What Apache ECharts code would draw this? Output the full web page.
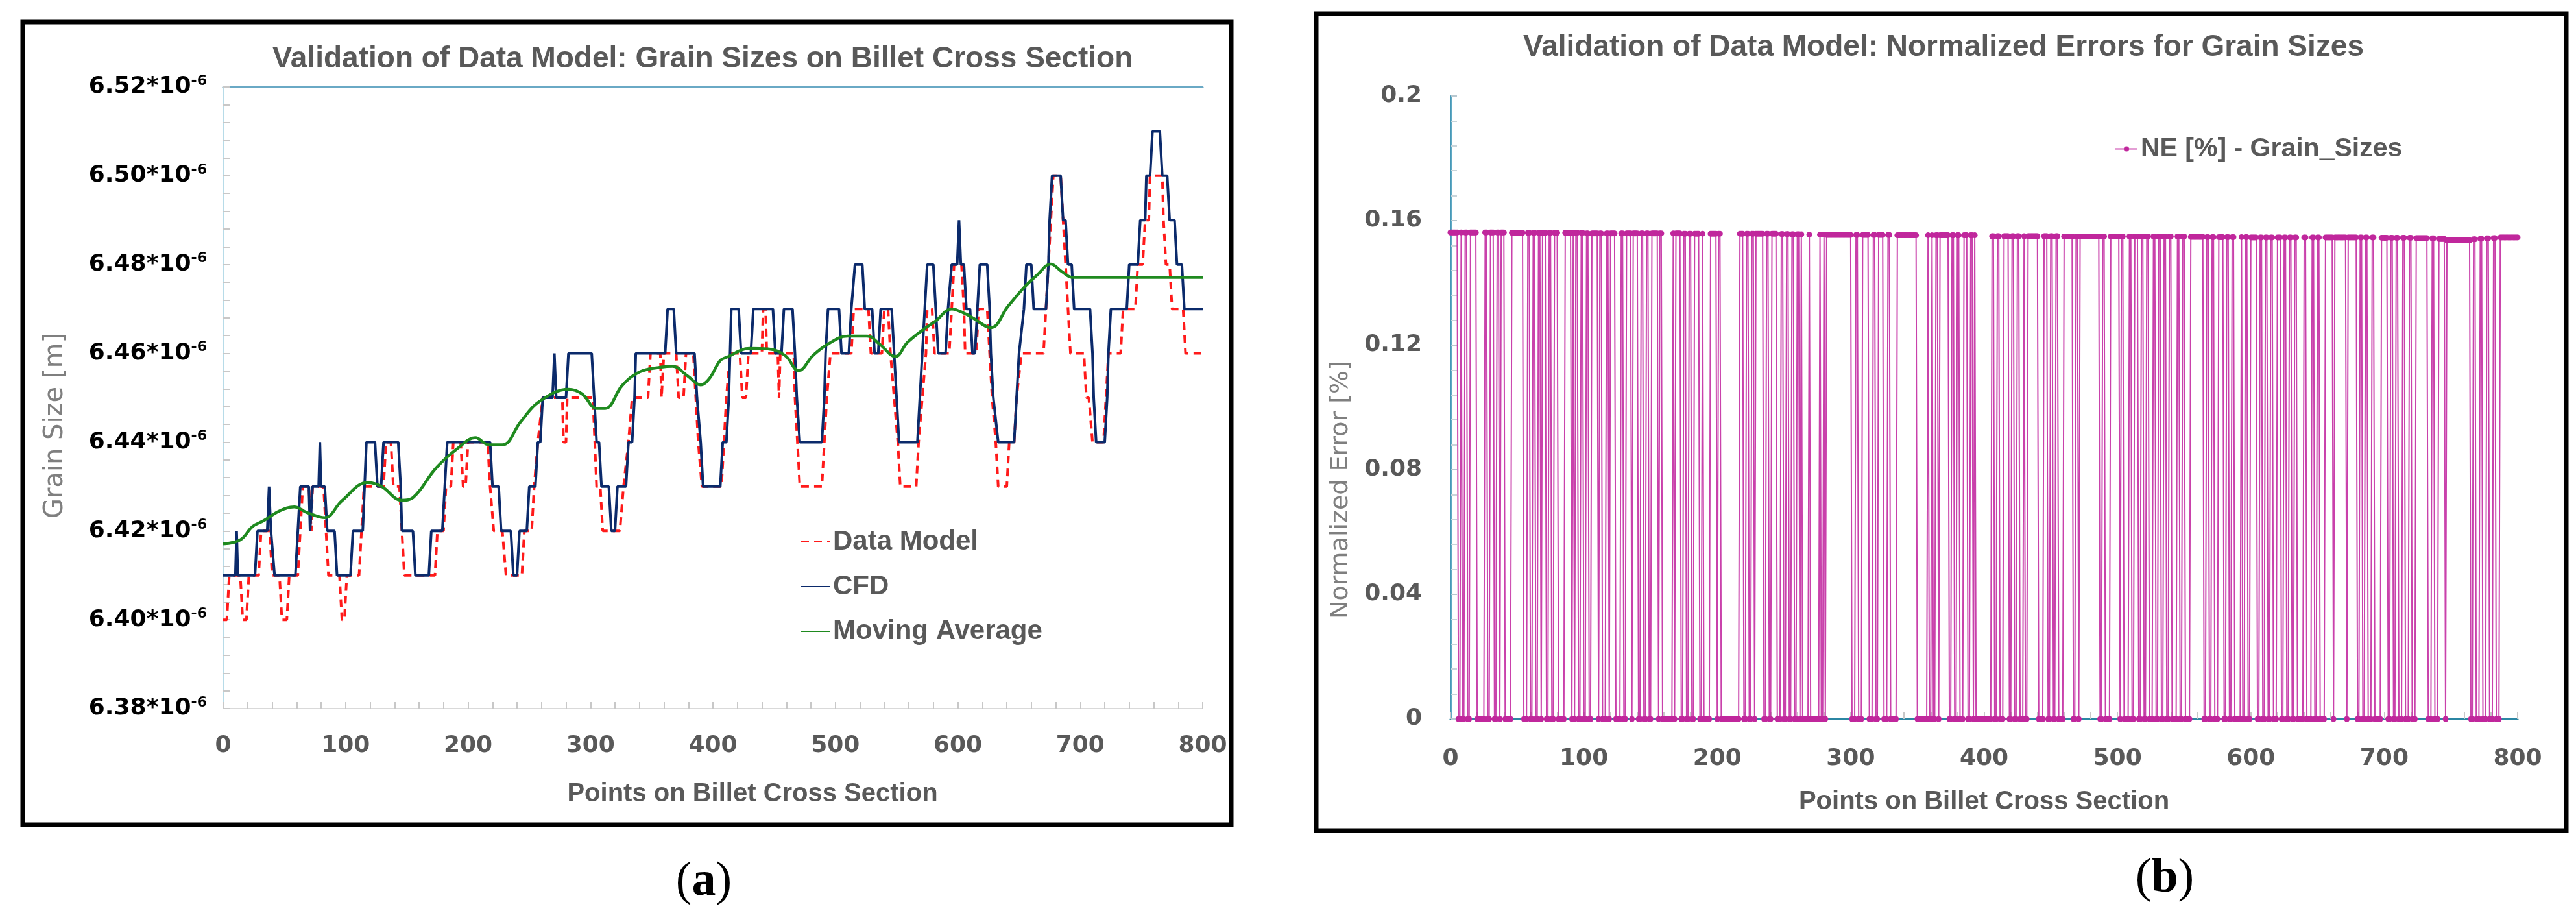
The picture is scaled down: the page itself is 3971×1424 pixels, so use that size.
<!DOCTYPE html>
<html>
<head>
<meta charset="utf-8">
<script src="https://cdn.jsdelivr.net/npm/echarts@6/dist/echarts.min.js"></script>
<style>
html,body{margin:0;padding:0;background:#ffffff;}
#chart{width:3971px;height:1424px;}
</style>
</head>
<body>
<div id="chart"></div>
<script>
// ---------------- DATA (grain sizes in units of 1e-6 m) ----------------
const xTickValues = [0, 100, 200, 300, 400, 500, 600, 700, 800];
const grainTickValues = [6.38, 6.40, 6.42, 6.44, 6.46, 6.48, 6.50, 6.52];
const neTickValues = [0, 0.04, 0.08, 0.12, 0.16, 0.2];

// CFD grain size (breakpoints)
const cfd = [
  [0,6.41],[10,6.41],[11,6.42],[12,6.41],[26,6.41],[28,6.42],[36,6.42],[37.5,6.43],[39,6.42],[40,6.42],[42,6.41],
  [59,6.41],[61,6.42],[63,6.43],[70,6.43],[71,6.42],[73,6.43],[78,6.43],[79,6.44],[80,6.43],[83,6.43],[85,6.42],
  [91,6.42],[93,6.41],[104,6.41],[106,6.42],[114,6.42],[117,6.44],[124,6.44],[126,6.43],[129,6.43],[131,6.44],
  [143,6.44],[145,6.43],[146,6.42],[155,6.42],[157,6.41],[168,6.41],[170,6.42],[179,6.42],[181,6.43],[183,6.44],
  [218,6.44],[220,6.43],[225,6.43],[227,6.42],[235,6.42],[237,6.41],[240,6.41],[242,6.42],[248,6.42],[250,6.43],
  [255,6.43],[257,6.44],[259,6.44],[261,6.45],[269,6.45],[270.5,6.46],[272,6.45],[280,6.45],[282,6.46],[301,6.46],
  [303,6.45],[305,6.44],[307,6.44],[309,6.43],[315,6.43],[317,6.42],[320,6.42],[322,6.43],[329,6.43],[331,6.44],
  [334,6.44],[336,6.45],[337,6.46],[361,6.46],[363,6.47],[368,6.47],[370,6.46],[385,6.46],[387,6.45],[390,6.44],
  [392,6.43],[406,6.43],[408,6.44],[411,6.44],[413,6.45],[414,6.46],[415,6.47],[421,6.47],[423,6.46],[431,6.46],
  [433,6.47],[449,6.47],[451,6.46],[456,6.46],[458,6.47],[465,6.47],[467,6.46],[468.5,6.45],[471,6.44],[489,6.44],
  [491,6.45],[492,6.46],[494,6.47],[503,6.47],[505,6.46],[511,6.46],[513,6.47],[516,6.48],[522,6.48],[524,6.47],
  [530,6.47],[532,6.46],[535,6.46],[537,6.47],[546,6.47],[548,6.46],[550,6.45],[552,6.44],[567,6.44],[569,6.45],
  [571,6.46],[573,6.47],[575,6.48],[580,6.48],[582,6.47],[584,6.46],[590,6.46],[592,6.47],[595,6.48],[599.5,6.48],
  [601,6.49],[602.5,6.48],[605,6.48],[607,6.47],[610,6.47],[612,6.46],[614,6.46],[616,6.47],[618,6.48],[624,6.48],
  [626,6.47],[627,6.46],[629,6.45],[633,6.44],[646,6.44],[648,6.45],[650,6.46],[654,6.47],[656,6.48],[660,6.48],
  [662,6.47],[672,6.47],[674,6.48],[675,6.49],[677,6.50],[684,6.50],[686,6.49],[688,6.49],[690,6.48],[693,6.48],
  [695,6.47],[708,6.47],[710,6.46],[711,6.45],[713,6.44],[720,6.44],[722,6.45],[723,6.46],[725,6.47],[738,6.47],
  [740,6.48],[747,6.48],[749,6.49],[753,6.49],[754,6.50],[757,6.50],[759,6.51],[765,6.51],[767,6.50],[771,6.50],
  [773,6.49],[777,6.49],[779,6.48],[783,6.48],[785,6.47],[800,6.47]
];

// Data model grain size (breakpoints)
const dataModel = [
  [0,6.40],[3,6.40],[5,6.41],[14,6.41],[16,6.40],[19,6.40],[21,6.41],[29,6.41],[31,6.42],[38,6.42],[40,6.41],
  [46,6.41],[48,6.40],[52,6.40],[54,6.41],[61,6.41],[63,6.42],[65,6.43],[70,6.43],[72,6.42],[73,6.43],[82,6.43],
  [84,6.42],[86,6.41],[95,6.41],[97,6.40],[99,6.40],[101,6.41],[111,6.41],[113,6.42],[115,6.43],[131,6.43],
  [133,6.44],[137,6.44],[139,6.43],[144,6.43],[146,6.42],[148,6.41],[173,6.41],[175,6.42],[180,6.42],[182,6.43],
  [186,6.43],[188,6.44],[194,6.44],[196,6.43],[198,6.43],[200,6.44],[216,6.44],[218,6.43],[221,6.42],[228,6.42],
  [231,6.41],[244,6.41],[246,6.42],[252,6.42],[254,6.43],[257,6.44],[261,6.45],[277,6.45],[278,6.44],[280,6.44],
  [281,6.45],[302,6.45],[303.5,6.44],[305,6.43],[308,6.43],[310,6.42],[324,6.42],[327,6.43],[331,6.44],[334,6.45],
  [347,6.45],[349,6.46],[357,6.46],[358,6.45],[360,6.46],[370,6.46],[372,6.45],[376,6.45],[378,6.46],[384,6.46],
  [386,6.45],[388,6.44],[391,6.43],[407,6.43],[409,6.44],[411,6.45],[414,6.46],[422,6.46],[424,6.45],[427,6.45],
  [429,6.46],[440,6.46],[441,6.47],[443,6.47],[444,6.46],[453,6.46],[454,6.45],[455,6.46],[466,6.46],[467,6.45],
  [469,6.44],[471,6.43],[489,6.43],[491,6.44],[493,6.45],[496,6.46],[513,6.46],[515,6.47],[527,6.47],[529,6.46],
  [538,6.46],[540,6.47],[543,6.47],[545,6.46],[548,6.45],[551,6.44],[553,6.43],[566,6.43],[568,6.44],[571,6.45],
  [574,6.46],[575,6.47],[579,6.47],[581,6.46],[593,6.46],[595,6.47],[597,6.48],[603,6.48],[605,6.47],[606,6.46],
  [615,6.46],[617,6.47],[624,6.47],[626,6.46],[628,6.45],[631,6.44],[633,6.43],[640,6.43],[642,6.44],[646,6.44],
  [648,6.45],[652,6.46],[670,6.46],[672,6.47],[674,6.48],[676,6.49],[678,6.50],[684,6.50],[686,6.49],[688,6.48],
  [690,6.47],[692,6.46],[703,6.46],[705,6.45],[707,6.45],[710,6.44],[719,6.44],[721,6.45],[723,6.46],[733,6.46],
  [735,6.47],[745,6.47],[747,6.48],[751,6.48],[753,6.49],[756,6.49],[757,6.50],[767,6.50],[768,6.49],[770,6.48],
  [773,6.48],[775,6.47],[784,6.47],[786,6.46],[800,6.46]
];

// Moving average
const movingAverage = [
  [0,6.4171],[14,6.418],[24,6.421],[33,6.4223],[46,6.4245],[58,6.4254],[68,6.4242],[83,6.423],[97,6.4268],
  [118,6.4309],[129,6.4301],[146,6.4269],[155,6.4275],[174,6.4342],[192,6.4387],[206,6.441],[217,6.4394],
  [228,6.4394],[243,6.4446],[258,6.4491],[282,6.4519],[293,6.4509],[305,6.4476],[312,6.4476],[326,6.4528],
  [340,6.4558],[358,6.4569],[367,6.4571],[379,6.455],[390,6.4529],[397,6.4543],[406,6.4584],[411,6.4591],
  [430,6.4611],[445,6.461],[459,6.4595],[470,6.4561],[482,6.4596],[494,6.4621],[510,6.4639],[526,6.4639],
  [536,6.4621],[549,6.4593],[559,6.4625],[572,6.4654],[582,6.4673],[595,6.47],[607,6.4688],[612,6.468],
  [627,6.4658],[641,6.4706],[655,6.4751],[665,6.4777],[676,6.4801],[685,6.4784],[694,6.4771],[800,6.4771]
];

// Normalized error: runs [from, to, value %] where NE is non-zero; every other point is 0
const neHighRuns = [
  [0,5,0.1562],[8,8,0.1562],[11,12,0.1562],[15,19,0.1562],[26,27,0.1562],[30,32,0.1562],[35,36,0.1562],
  [38,40,0.1562],[46,54,0.1561],[58,59,0.1561],[62,63,0.1561],[66,67,0.1561],[69,71,0.1561],[74,75,0.1561],
  [78,80,0.1561],[86,90,0.1561],[92,92,0.1561],[94,95,0.1561],[98,99,0.1561],[102,103,0.1559],[106,110,0.1559],
  [112,113,0.1559],[117,118,0.1559],[120,123,0.1559],[128,129,0.1559],[132,135,0.1559],[137,140,0.1559],
  [143,144,0.1559],[147,148,0.1559],[151,155,0.1559],[157,158,0.1559],[167,167,0.1559],[169,172,0.1559],
  [175,176,0.1558],[179,180,0.1558],[183,186,0.1558],[189,189,0.1558],[195,199,0.1558],[201,202,0.1558],
  [217,219,0.1558],[222,223,0.1558],[226,227,0.1558],[229,234,0.1558],[237,238,0.1558],[241,244,0.1558],
  [248,249,0.1557],[252,253,0.1557],[256,257,0.1556],[260,261,0.1556],[263,263,0.1556],[269,269,0.1555],
  [277,277,0.1555],[280,280,0.1555],[282,300,0.1554],[304,305,0.1554],[309,313,0.1554],[317,318,0.1554],
  [321,324,0.1554],[328,329,0.1554],[335,349,0.1553],[358,358,0.1553],[361,361,0.1553],[364,365,0.1553],
  [367,373,0.1553],[376,377,0.1553],[380,381,0.1553],[385,387,0.1553],[390,391,0.1553],[393,393,0.1553],
  [406,407,0.1550],[410,411,0.1550],[415,418,0.1550],[421,422,0.1550],[425,426,0.1550],[430,430,0.1550],
  [433,440,0.1550],[445,447,0.1550],[450,451,0.1550],[454,455,0.1550],[460,466,0.1549],[469,470,0.1549],
  [472,486,0.1549],[489,490,0.1549],[495,501,0.1549],[503,504,0.1549],[509,510,0.1549],[513,515,0.1549],
  [518,519,0.1549],[522,523,0.1549],[527,528,0.1549],[531,532,0.1549],[535,536,0.1549],[539,540,0.1549],
  [545,546,0.1549],[549,550,0.1549],[555,564,0.1548],[567,568,0.1547],[571,572,0.1547],[576,579,0.1547],
  [582,583,0.1547],[586,587,0.1547],[593,593,0.1547],[596,597,0.1547],[600,604,0.1546],[607,608,0.1546],
  [611,612,0.1546],[615,616,0.1546],[620,622,0.1546],[625,626,0.1546],[629,630,0.1546],[633,634,0.1546],
  [640,641,0.1546],[646,647,0.1546],[650,651,0.1546],[656,661,0.1546],[663,671,0.1546],[673,679,0.1546],
  [682,683,0.1546],[686,687,0.1546],[691,692,0.1546],[698,702,0.1545],[705,706,0.1545],[709,710,0.1545],
  [714,715,0.1545],[719,720,0.1545],[724,732,0.1544],[736,737,0.1543],[741,745,0.1541],[747,764,0.1537],
  [767,768,0.1540],[772,773,0.1542],[777,778,0.1543],[782,783,0.1544],[787,800,0.1546]
];
const nePointCount = 801;

// ---------------- build series table from the runs ----------------
function buildNE() {
  const out = [];
  for (let i = 0; i < nePointCount; i++) {
    let v = 0;
    for (const r of neHighRuns) { if (i >= r[0] && i <= r[1]) { v = r[2]; break; } }
    out.push([i, v]);
  }
  return out;
}

const SANS = "'Liberation Sans', Arial, sans-serif";
const DV = "'DejaVu Sans', sans-serif";
const GREY = '#595959';

const chart = echarts.init(document.getElementById('chart'), null, {renderer: 'canvas'});

function borderAxisX(grid, color, width) {
  return {gridIndex: grid, type: 'value', min: 0, max: 800, position: 'top',
    axisLine: {show: true, lineStyle: {color: color, width: width}},
    axisTick: {show: false}, axisLabel: {show: false}, splitLine: {show: false}};
}
function borderAxisY(grid, color, width, min, max) {
  return {gridIndex: grid, type: 'value', min: min, max: max, position: 'right',
    axisLine: {show: true, lineStyle: {color: color, width: width}},
    axisTick: {show: false}, axisLabel: {show: false}, splitLine: {show: false}};
}

const option = {
  animation: false,
  backgroundColor: '#ffffff',
  title: [
    {text: 'Validation of Data Model: Grain Sizes on Billet Cross Section', left: 1078, top: 63, textAlign: 'center',
     textStyle: {fontFamily: SANS, fontWeight: 'bold', fontSize: 46, color: GREY}},
    {text: 'Validation of Data Model: Normalized Errors for Grain Sizes', left: 2991, top: 45, textAlign: 'center',
     textStyle: {fontFamily: SANS, fontWeight: 'bold', fontSize: 46, color: GREY}}
  ],
  legend: [
    {data: ['Data Model', 'CFD', 'Moving Average'], orient: 'vertical', left: 1229, top: 809,
     itemWidth: 44, itemHeight: 14, itemGap: 27,
     itemStyle: {color: 'rgba(0,0,0,0)', borderWidth: 0},
     textStyle: {fontFamily: SANS, fontWeight: 'bold', fontSize: 42, color: GREY}},
    {data: ['NE [%] - Grain_Sizes'], left: 3255, top: 204, itemWidth: 34, itemHeight: 10,
     textStyle: {fontFamily: SANS, fontWeight: 'bold', fontSize: 41, color: GREY}}
  ],
  grid: [
    {left: 344, top: 134, width: 1510, height: 958},
    {left: 2236, top: 148, width: 1645, height: 960}
  ],
  xAxis: [
    {gridIndex: 0, type: 'value', min: xTickValues[0], max: xTickValues[xTickValues.length - 1], interval: 100,
     name: 'Points on Billet Cross Section', nameLocation: 'middle', nameGap: 112,
     nameTextStyle: {fontFamily: SANS, fontWeight: 'bold', fontSize: 40, color: GREY, padding: [0, 0, 0, 122]},
     axisLine: {show: true, lineStyle: {color: '#d9d9d9', width: 2}},
     axisTick: {show: true, inside: true, length: 10, lineStyle: {color: '#c8c8c8', width: 2}},
     minorTick: {show: true, splitNumber: 5, length: 10, lineStyle: {color: '#c8c8c8', width: 2}},
     splitLine: {show: false},
     axisLabel: {margin: 40, fontFamily: DV, fontWeight: 'bold', fontSize: 36, color: GREY}},
    {gridIndex: 1, type: 'value', min: xTickValues[0], max: xTickValues[xTickValues.length - 1], interval: 100,
     name: 'Points on Billet Cross Section', nameLocation: 'middle', nameGap: 108,
     nameTextStyle: {fontFamily: SANS, fontWeight: 'bold', fontSize: 40, color: GREY},
     axisLine: {show: true, lineStyle: {color: '#c0c8cc', width: 2}},
     axisTick: {show: true, inside: true, length: 10, lineStyle: {color: '#c8c8c8', width: 2}},
     minorTick: {show: true, splitNumber: 5, length: 10, lineStyle: {color: '#c8c8c8', width: 2}},
     splitLine: {show: false},
     axisLabel: {margin: 44, fontFamily: DV, fontWeight: 'bold', fontSize: 36, color: GREY}},
    borderAxisX(0, '#6aa9c5', 3),
    borderAxisX(1, '#2b86a3', 3)
  ],
  yAxis: [
    {gridIndex: 0, type: 'value', min: grainTickValues[0], max: grainTickValues[grainTickValues.length - 1], interval: 0.02,
     name: 'Grain Size [m]', nameLocation: 'middle', nameGap: 238, nameRotate: 90,
     nameTextStyle: {fontFamily: DV, fontSize: 40, color: '#7f7f7f', padding: [0, 86, 0, 0]},
     axisLine: {show: true, lineStyle: {color: '#d9d9d9', width: 2}},
     axisTick: {show: true, inside: true, length: 10, lineStyle: {color: '#c8c8c8', width: 2}},
     minorTick: {show: true, splitNumber: 5, length: 10, lineStyle: {color: '#c8c8c8', width: 2}},
     splitLine: {show: false},
     axisLabel: {margin: 25,
       formatter: function (v) { return '{a|' + v.toFixed(2) + '*10}{b|-6}'; },
       rich: {
         a: {fontFamily: DV, fontWeight: 'bold', fontSize: 36, color: '#000000', lineHeight: 40},
         b: {fontFamily: DV, fontWeight: 'bold', fontSize: 22, color: '#000000', verticalAlign: 'top', lineHeight: 40}
       }}},
    {gridIndex: 1, type: 'value', min: neTickValues[0], max: neTickValues[neTickValues.length - 1], interval: 0.04,
     name: 'Normalized Error [%]', nameLocation: 'middle', nameGap: 150, nameRotate: 90,
     nameTextStyle: {fontFamily: DV, fontSize: 38, color: '#7f7f7f', padding: [0, 254, 0, 0]},
     axisLine: {show: true, lineStyle: {color: '#9dbccb', width: 2}},
     axisTick: {show: true, inside: true, length: 10, lineStyle: {color: '#b8c8d0', width: 2}},
     minorTick: {show: true, splitNumber: 5, length: 10, lineStyle: {color: '#c8d4da', width: 2}},
     splitLine: {show: false},
     axisLabel: {margin: 44, fontFamily: DV, fontWeight: 'bold', fontSize: 36, color: GREY,
       formatter: function (v) { return String(parseFloat(v.toFixed(2))); }}},
    borderAxisY(0, '#b7dbe8', 2, 6.38, 6.52),
    borderAxisY(1, '#2b8db0', 2.5, 0, 0.2)
  ],
  series: [
    {name: 'Data Model', type: 'line', xAxisIndex: 0, yAxisIndex: 0, data: dataModel, symbol: 'none',
     lineStyle: {color: '#ff1a1a', width: 4, type: [12, 8]}, itemStyle: {color: '#ff1a1a'}, z: 2},
    {name: 'CFD', type: 'line', xAxisIndex: 0, yAxisIndex: 0, data: cfd, symbol: 'none',
     lineStyle: {color: '#0b2a6b', width: 4}, itemStyle: {color: '#0b2a6b'}, z: 3},
    {name: 'Moving Average', type: 'line', xAxisIndex: 0, yAxisIndex: 0, data: movingAverage, symbol: 'none',
     smooth: 0.4, lineStyle: {color: '#1f8a1f', width: 4.5}, itemStyle: {color: '#1f8a1f'}, z: 4},
    {name: 'NE [%] - Grain_Sizes', type: 'line', xAxisIndex: 1, yAxisIndex: 1, data: buildNE(),
     symbol: 'circle', symbolSize: 9, showAllSymbol: true, clip: false,
     lineStyle: {color: 'rgba(192,32,156,0.85)', width: 2}, itemStyle: {color: '#c0279c'}}
  ],
  graphic: [
    {type: 'rect', shape: {x: 35, y: 34, width: 1863, height: 1237}, style: {fill: 'none', stroke: '#000', lineWidth: 7}, z: 100},
    {type: 'rect', shape: {x: 2029, y: 21, width: 1927, height: 1259}, style: {fill: 'none', stroke: '#000', lineWidth: 7}, z: 100},
    {type: 'text', x: 1085, y: 1360, z: 100,
     style: {text: '{p|(}{q|a}{p|)}', align: 'center', verticalAlign: 'middle',
       rich: {p: {fontFamily: "'Liberation Serif', serif", fontSize: 74, color: '#000'},
              q: {fontFamily: "'Liberation Serif', serif", fontWeight: 'bold', fontSize: 74, color: '#000'}}}},
    {type: 'text', x: 3337, y: 1355, z: 100,
     style: {text: '{p|(}{q|b}{p|)}', align: 'center', verticalAlign: 'middle',
       rich: {p: {fontFamily: "'Liberation Serif', serif", fontSize: 74, color: '#000'},
              q: {fontFamily: "'Liberation Serif', serif", fontWeight: 'bold', fontSize: 74, color: '#000'}}}}
  ]
};
chart.setOption(option);
</script>
</body>
</html>
